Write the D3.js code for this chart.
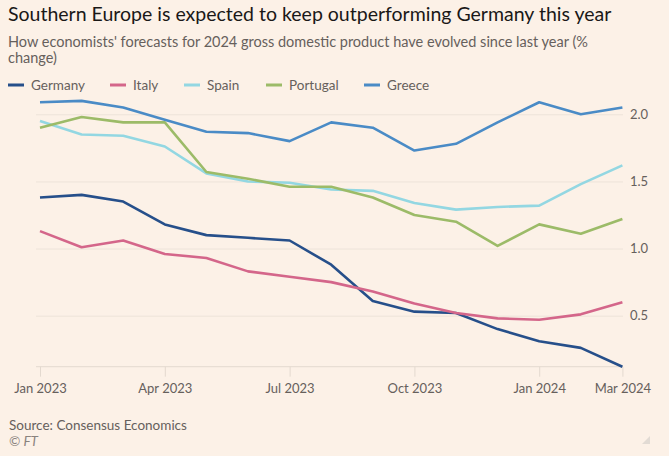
<!DOCTYPE html>
<html><head><meta charset="utf-8">
<script src="https://cdn.jsdelivr.net/npm/d3@7/dist/d3.min.js"></script>
<style>
html,body{margin:0;padding:0;background:#fcf1e7;}
svg{display:block;font-family:Lato,"Open Sans",sans-serif;}
</style>
</head><body>
<svg id="chart" width="669" height="456"></svg>
<script>
// ---- data ----
const months = ["2023-01","2023-02","2023-03","2023-04","2023-05","2023-06","2023-07","2023-08",
                "2023-09","2023-10","2023-11","2023-12","2024-01","2024-02","2024-03"];
const germany  = [1.38,1.40,1.35,1.18,1.10,1.08,1.06,0.88,0.61,0.53,0.52,0.40,0.31,0.26,0.12];
const italy    = [1.13,1.01,1.06,0.96,0.93,0.83,0.79,0.75,0.68,0.59,0.52,0.48,0.47,0.51,0.60];
const spain    = [1.95,1.85,1.84,1.76,1.56,1.50,1.49,1.44,1.43,1.34,1.29,1.31,1.32,1.48,1.62];
const portugal = [1.90,1.98,1.94,1.94,1.57,1.52,1.46,1.46,1.38,1.25,1.20,1.02,1.18,1.11,1.22];
const greece   = [2.09,2.10,2.05,1.96,1.87,1.86,1.80,1.94,1.90,1.73,1.78,1.94,2.09,2.00,2.05];
const seriesNames = ["Germany","Italy","Spain","Portugal","Greece"];
const xTickMonths = ["2023-01","2023-04","2023-07","2023-10","2024-01","2024-03"];
const xTickLabels = ["Jan 2023","Apr 2023","Jul 2023","Oct 2023","Jan 2024","Mar 2024"];
const yTicks = [0.5,1.0,1.5,2.0];

const colors = {Germany:"#264f8a",Italy:"#d4668a",Spain:"#93d7e2",Portugal:"#9cbb68",Greece:"#4a8bc6"};
const seriesValues = {Germany:germany,Italy:italy,Spain:spain,Portugal:portugal,Greece:greece};

const svg = d3.select("#chart");
const textCol = "#66605c";

// ---- header ----
svg.append("text").attr("x",8).attr("y",21)
  .attr("font-size",19.5).attr("fill","#1a1817")
  .text("Southern Europe is expected to keep outperforming Germany this year");
svg.append("text").attr("x",8).attr("y",47).attr("font-size",14.5).attr("fill",textCol)
  .text("How economists' forecasts for 2024 gross domestic product have evolved since last year (%");
svg.append("text").attr("x",8).attr("y",63).attr("font-size",14.5).attr("fill",textCol)
  .text("change)");

// ---- legend ----
const legendX = [8,110,184,266,364];
const lg = svg.append("g");
seriesNames.forEach((n,i)=>{
  const g = lg.append("g").attr("transform",`translate(${legendX[i]},85)`);
  g.append("line").attr("x1",0).attr("x2",16).attr("y1",0).attr("y2",0)
    .attr("stroke",colors[n]).attr("stroke-width",3);
  g.append("text").attr("x",23).attr("y",0).attr("dy","0.35em")
    .attr("font-size",13.5).attr("fill",textCol).text(n);
});

// ---- scales ----
const plotLeft = 36, plotRight = 623;
const x = d3.scalePoint().domain(months).range([40,622.4]);
const y = d3.scaleLinear().domain([0.12,2.0]).range([366.7,114.3]);

// grid + y axis labels
const yAxis = d3.axisRight(y).tickValues(yTicks).tickFormat(d3.format(".1f"))
  .tickSize(-(plotRight-plotLeft)).tickPadding(7);
const gy = svg.append("g").attr("transform",`translate(${plotRight},0)`).call(yAxis);
gy.select(".domain").remove();
gy.selectAll("line").attr("stroke","#ede3d9").attr("stroke-width",1);
gy.selectAll("text").attr("font-size",13).attr("fill",textCol).attr("font-family","Lato,sans-serif");

// baseline
svg.append("line").attr("x1",plotLeft).attr("x2",plotRight)
  .attr("y1",y(0.12)).attr("y2",y(0.12)).attr("stroke","#e3d9cf").attr("stroke-width",1);

// x axis
const xAxis = d3.axisBottom(x).tickValues(xTickMonths)
  .tickFormat((d)=>xTickLabels[xTickMonths.indexOf(d)]).tickSize(10).tickPadding(7);
const gx = svg.append("g").attr("transform",`translate(0,${y(0.12)})`).call(xAxis);
gx.select(".domain").remove();
gx.selectAll("line").attr("stroke","#e3d9cf");
gx.selectAll("text").attr("font-size",13).attr("fill",textCol).attr("font-family","Lato,sans-serif");

// ---- lines ----
const line = d3.line().x((d,i)=>x(months[i])).y(d=>y(d)).curve(d3.curveLinear);
seriesNames.forEach(n=>{
  svg.append("path").datum(seriesValues[n]).attr("d",line)
    .attr("fill","none").attr("stroke",colors[n]).attr("stroke-width",2.6)
    .attr("stroke-linejoin","round").attr("stroke-linecap","butt");
});

// ---- footer ----
svg.append("text").attr("x",9).attr("y",430).attr("font-size",13.5).attr("fill",textCol)
  .text("Source: Consensus Economics");
svg.append("text").attr("x",9).attr("y",446).attr("font-size",13.5).attr("fill","#8a837e")
  .attr("font-style","italic").text("© FT");

// resize grip
svg.append("path").attr("d","M650,436 L650,444 L642,444 Z").attr("fill","#e2dbd4");
</script>
</body></html>
